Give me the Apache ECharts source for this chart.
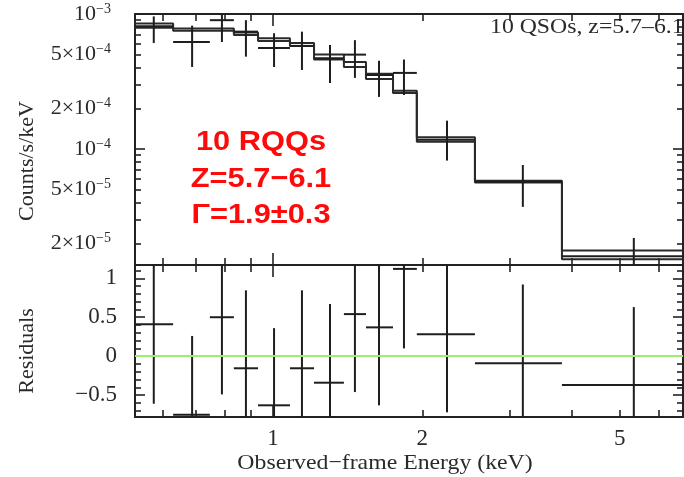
<!DOCTYPE html>
<html>
<head>
<meta charset="utf-8">
<script src="https://cdn.jsdelivr.net/npm/echarts@6/dist/echarts.min.js"></script>
<style>html,body{margin:0;padding:0;background:#fff;}#chart{width:684px;height:477px;}</style>
</head>
<body>
<div id="chart"></div>
<script>
// ---- data ----
const binEdges   = [0.50, 0.629, 0.746, 0.834, 0.933, 1.082, 1.21, 1.39, 1.54, 1.746, 1.95, 2.554, 3.825, 7.5];
const energies   = [0.575, 0.687, 0.789, 0.882, 1.005, 1.144, 1.303, 1.463, 1.636, 1.837, 2.243, 3.19, 5.34];
const counts     = [8.1e-4, 6.2e-4, 9.0e-4, 7.4e-4, 5.6e-4, 5.8e-4, 4.7e-4, 5.0e-4, 3.53e-4, 3.66e-4, 1.17e-4, 5.72e-5, 1.6e-5];
const countsLow  = [6.1e-4, 4.05e-4, 6.2e-4, 4.83e-4, 4.05e-4, 3.85e-4, 3.08e-4, 3.36e-4, 2.43e-4, 2.51e-4, 8.2e-5, 3.72e-5, 1.2e-5];
const countsHigh = [9.6e-4, 8.2e-4, 1.1e-3, 9.0e-4, 7.2e-4, 7.4e-4, 5.9e-4, 6.4e-4, 4.5e-4, 4.6e-4, 1.62e-4, 7.6e-5, 2.19e-5];
const modelA     = [8.5e-4, 7.8e-4, 7.8e-4, 7.3e-4, 6.6e-4, 6.1e-4, 5.0e-4, 4.4e-4, 3.6e-4, 2.7e-4, 1.22e-4, 5.8e-5, 1.77e-5];
const modelB     = [7.9e-4, 7.5e-4, 7.5e-4, 7.0e-4, 6.3e-4, 5.8e-4, 4.6e-4, 4.05e-4, 3.3e-4, 2.6e-4, 1.13e-4, 5.65e-5, 1.52e-5];
const residuals  = [0.41, -0.75, 0.50, -0.155, -0.63, -0.155, -0.34, 0.54, 0.37, 1.12, 0.28, -0.09, -0.37];
const residualErr= [1.02, 1.01, 0.99, 1.0, 0.99, 1.0, 1.01, 1.0, 1.0, 1.02, 1.0, 1.01, 1.0];

// ---- axes / ticks ----
const X_MIN = 0.527, X_MAX = 6.71;
const Y_MIN = 1.38e-5, Y_MAX = 1.0e-3;
const R_MIN = -0.78, R_MAX = 1.17;
const xMajorTicks = [1];
const xMinorTicks = [0.6, 0.7, 0.8, 0.9, 2, 3, 4, 5, 6];
const xTickLabels = [1, 2, 5];
const yMajorTicks = [1e-5, 1e-4, 1e-3];
const yMinorTicks = [2e-5, 3e-5, 4e-5, 5e-5, 6e-5, 7e-5, 8e-5, 9e-5, 2e-4, 3e-4, 4e-4, 5e-4, 6e-4, 7e-4, 8e-4, 9e-4];
const yTickLabels = [2e-5, 5e-5, 1e-4, 2e-4, 5e-4, 1e-3];
const yTickTexts  = ['{b|2×10}{s|−5}', '{b|5×10}{s|−5}', '{b|10}{s|−4}', '{b|2×10}{s|−4}', '{b|5×10}{s|−4}', '{b|10}{s|−3}'];
const rMajorTicks = [-0.5, 0, 0.5, 1];
const rMinorTicks = [-0.7, -0.6, -0.4, -0.3, -0.2, -0.1, 0.1, 0.2, 0.3, 0.4, 0.6, 0.7, 0.8, 0.9, 1.1];
const rTickLabels = [-0.5, 0, 0.5, 1];

const FONT = 'Liberation Serif';
const AX = '#222';
const TXT = '#2a2a2a';

function nearestIndex(arr, v, log) {
  let best = 0, bd = Infinity;
  arr.forEach((a, i) => {
    const d = log ? Math.abs(Math.log10(a) - Math.log10(v)) : Math.abs(a - v);
    if (d < bd) { bd = d; best = i; }
  });
  return best;
}

function makeAxis(type, gridIndex, position, min, max, ticks, len, withLine, labelCfg) {
  const ax = {
    type, gridIndex, position, min, max,
    axisLine: withLine ? {show: true, onZero: false, lineStyle: {color: AX, width: 2}} : {show: false, onZero: false},
    axisTick: {show: true, inside: true, length: len, customValues: ticks, lineStyle: {color: AX, width: 1.6}},
    axisLabel: labelCfg || {show: false},
    splitLine: {show: false},
    minorTick: {show: false},
    minorSplitLine: {show: false}
  };
  if (type === 'log') ax.logBase = 10;
  return ax;
}

const xLabelCfg = {
  show: true, customValues: xTickLabels, margin: 10, fontFamily: FONT, fontSize: 23, color: TXT,
  formatter: v => String(xTickLabels[nearestIndex(xTickLabels, v, true)])
};
const yLabelCfg = {
  show: true, customValues: yTickLabels, margin: 24, fontFamily: FONT, color: TXT,
  formatter: v => yTickTexts[nearestIndex(yTickLabels, v, true)],
  rich: {
    b: {fontFamily: FONT, fontSize: 22, color: TXT, lineHeight: 24},
    s: {fontFamily: FONT, fontSize: 14, color: TXT, verticalAlign: 'top', lineHeight: 14}
  }
};
const rLabelCfg = {
  show: true, customValues: rTickLabels, margin: 18, fontFamily: FONT, fontSize: 23, color: TXT,
  formatter: v => { const t = rTickLabels[nearestIndex(rTickLabels, v, false)]; return String(t).replace('-', '−'); }
};

const xAxes = [
  makeAxis('log', 0, 'bottom', X_MIN, X_MAX, xMajorTicks, 12, true),
  makeAxis('log', 0, 'bottom', X_MIN, X_MAX, xMinorTicks, 7, false),
  makeAxis('log', 0, 'top', X_MIN, X_MAX, xMajorTicks, 12, true),
  makeAxis('log', 0, 'top', X_MIN, X_MAX, xMinorTicks, 7, false),
  makeAxis('log', 1, 'bottom', X_MIN, X_MAX, xMajorTicks, 12, true, xLabelCfg),
  makeAxis('log', 1, 'bottom', X_MIN, X_MAX, xMinorTicks, 7, false),
  makeAxis('log', 1, 'top', X_MIN, X_MAX, xMajorTicks, 12, true),
  makeAxis('log', 1, 'top', X_MIN, X_MAX, xMinorTicks, 7, false)
];
const yAxes = [
  makeAxis('log', 0, 'left', Y_MIN, Y_MAX, yMajorTicks, 10, true, yLabelCfg),
  makeAxis('log', 0, 'left', Y_MIN, Y_MAX, yMinorTicks, 6, false),
  makeAxis('log', 0, 'right', Y_MIN, Y_MAX, yMajorTicks, 10, true),
  makeAxis('log', 0, 'right', Y_MIN, Y_MAX, yMinorTicks, 6, false),
  makeAxis('value', 1, 'left', R_MIN, R_MAX, rMajorTicks, 10, true, rLabelCfg),
  makeAxis('value', 1, 'left', R_MIN, R_MAX, rMinorTicks, 6, false),
  makeAxis('value', 1, 'right', R_MIN, R_MAX, rMajorTicks, 10, true),
  makeAxis('value', 1, 'right', R_MIN, R_MAX, rMinorTicks, 6, false)
];

function stepData(values) {
  const d = [];
  values.forEach((v, i) => { d.push([binEdges[i], v]); d.push([binEdges[i + 1], v]); });
  return d;
}

const countData = energies.map((e, i) => [e, counts[i], binEdges[i], binEdges[i + 1], countsLow[i], countsHigh[i]]);
const resData = energies.map((e, i) => [e, residuals[i], binEdges[i], binEdges[i + 1], residuals[i] - residualErr[i], residuals[i] + residualErr[i]]);

function crossRender(params, api) {
  const x = api.value(0), y = api.value(1), x0 = api.value(2), x1 = api.value(3), y0 = api.value(4), y1 = api.value(5);
  const a = api.coord([x0, y]), b = api.coord([x1, y]), c = api.coord([x, y0]), d = api.coord([x, y1]);
  const st = {stroke: '#1e1e1e', lineWidth: 2};
  return {type: 'group', children: [
    {type: 'line', shape: {x1: a[0], y1: a[1], x2: b[0], y2: b[1]}, style: st},
    {type: 'line', shape: {x1: c[0], y1: c[1], x2: d[0], y2: d[1]}, style: st}
  ]};
}

const redStyle = (t) => ({text: t, fontFamily: 'Liberation Sans', fontWeight: 'bold', fontSize: 28, fill: '#ff0a0a', textAlign: 'center', textVerticalAlign: 'middle'});

const chart = echarts.init(document.getElementById('chart'), null, {renderer: 'canvas'});
chart.setOption({
  animation: false,
  backgroundColor: '#fff',
  grid: [
    {left: 135, top: 14, width: 548, height: 251, containLabel: false, outerBoundsMode: 'none'},
    {left: 135, top: 265, width: 548, height: 152, containLabel: false, outerBoundsMode: 'none'}
  ],
  xAxis: xAxes,
  yAxis: yAxes,
  series: [
    {type: 'line', xAxisIndex: 0, yAxisIndex: 0, data: stepData(modelA), showSymbol: false, symbol: 'none', clip: true,
     lineStyle: {color: '#2a2a2a', width: 2}, z: 3},
    {type: 'line', xAxisIndex: 0, yAxisIndex: 0, data: stepData(modelB), showSymbol: false, symbol: 'none', clip: true,
     lineStyle: {color: '#2a2a2a', width: 2}, z: 3},
    {type: 'custom', xAxisIndex: 0, yAxisIndex: 0, data: countData, renderItem: crossRender, clip: true,
     encode: {x: 0, y: 1}, z: 4},
    {type: 'line', xAxisIndex: 4, yAxisIndex: 4, data: [], z: 2,
     markLine: {silent: true, symbol: 'none', label: {show: false}, data: [{yAxis: 0}],
                lineStyle: {color: '#9cef6e', width: 2, type: 'solid'}}},
    {type: 'custom', xAxisIndex: 4, yAxisIndex: 4, data: resData, renderItem: crossRender, clip: true,
     encode: {x: 0, y: 1}, z: 4}
  ],
  graphic: [
    {type: 'text', x: 27, y: 161, rotation: Math.PI / 2, style: {text: 'Counts/s/keV', fontFamily: FONT, fontSize: 22, fill: TXT, textAlign: 'center', textVerticalAlign: 'middle'}},
    {type: 'text', x: 27, y: 351, rotation: Math.PI / 2, style: {text: 'Residuals', fontFamily: FONT, fontSize: 22, fill: TXT, textAlign: 'center', textVerticalAlign: 'middle'}},
    {type: 'text', x: 385, y: 463, scaleX: 1.08, style: {text: 'Observed−frame Energy (keV)', fontFamily: FONT, fontSize: 22, fill: TXT, textAlign: 'center', textVerticalAlign: 'middle'}},
    {type: 'text', x: 490, y: 27, scaleX: 1.08, style: {text: '10 QSOs, z=5.7–6.1', fontFamily: FONT, fontSize: 22, fill: TXT, textAlign: 'left', textVerticalAlign: 'middle'}},
    {type: 'text', x: 261, y: 142, scaleX: 1.1, style: redStyle('10 RQQs')},
    {type: 'text', x: 261, y: 179, scaleX: 1.1, style: redStyle('Z=5.7−6.1')},
    {type: 'text', x: 261, y: 215, scaleX: 1.1, style: redStyle('Γ=1.9±0.3')}
  ]
});
</script>
</body>
</html>
